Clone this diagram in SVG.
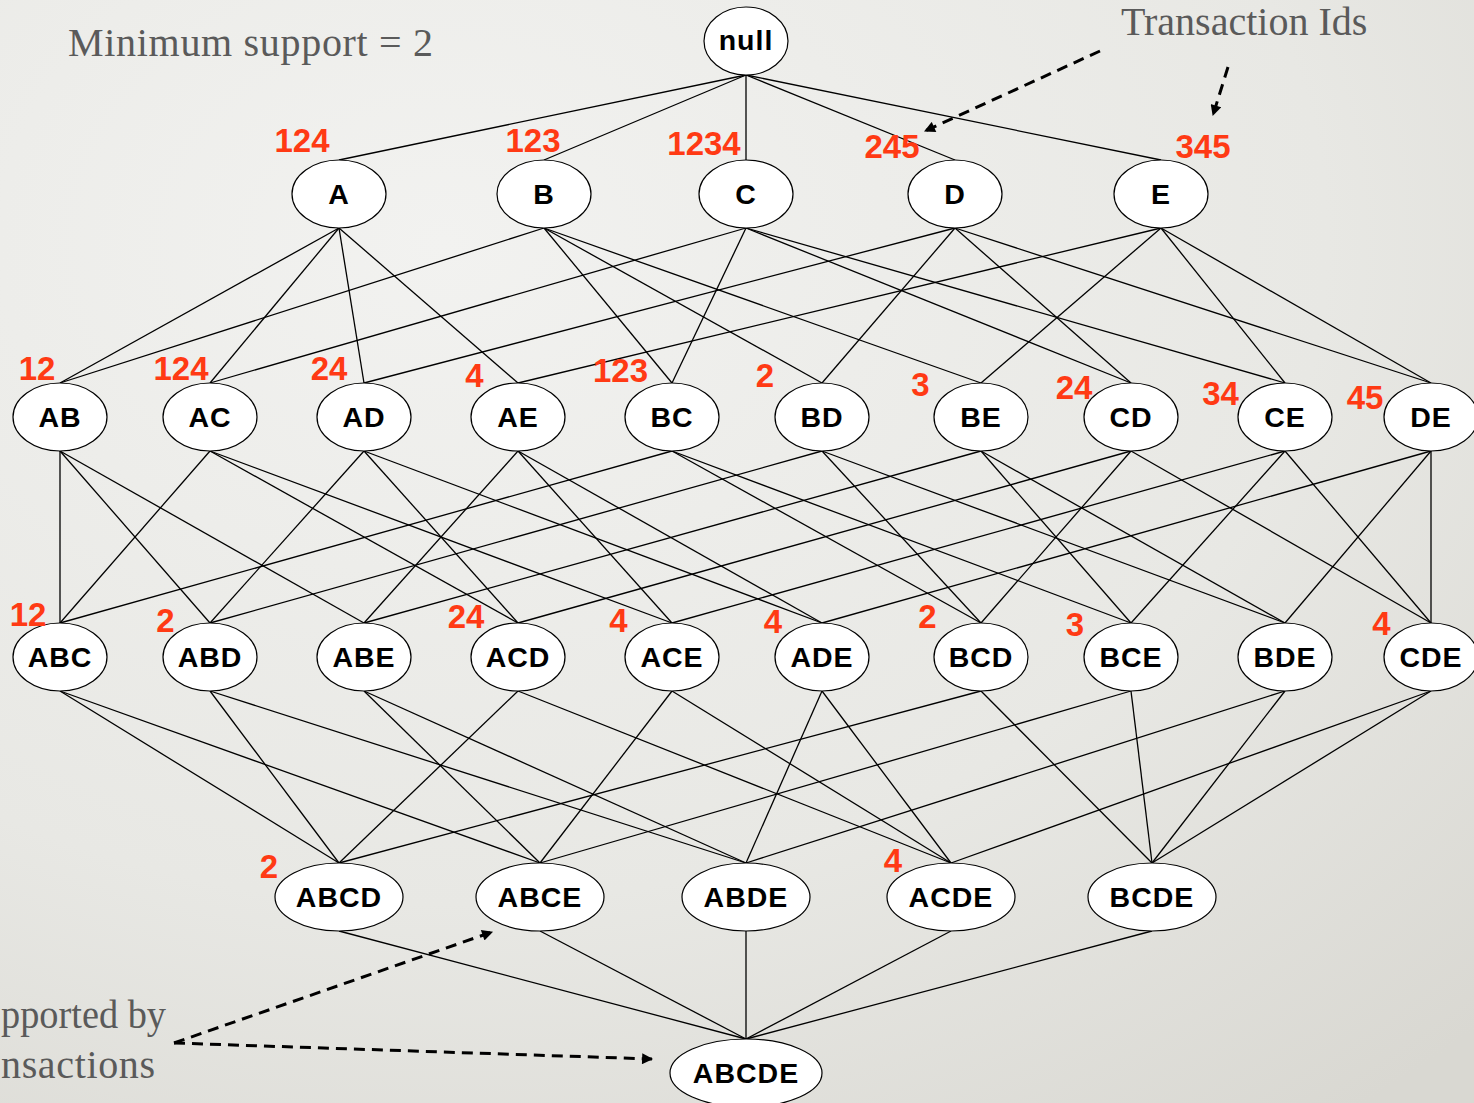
<svg xmlns="http://www.w3.org/2000/svg" width="1474" height="1103" viewBox="0 0 1474 1103">
  <defs>
    <radialGradient id="bg" cx="0.3" cy="0.22" r="1.0">
      <stop offset="0" stop-color="#f2f2f0"/>
      <stop offset="0.6" stop-color="#e8e8e4"/>
      <stop offset="1" stop-color="#d9d8d2"/>
    </radialGradient>
    <marker id="head" viewBox="0 0 10 10" refX="9" refY="5" markerWidth="13" markerHeight="11" markerUnits="userSpaceOnUse" orient="auto">
      <path d="M0,0 L10,5 L0,10 z" fill="#000"/>
    </marker>
    <style>
      .node ellipse { fill: #fff; stroke: #000; stroke-width: 1.2; }
      .node text { font-family: "Liberation Sans", Arial, sans-serif; font-weight: bold; font-size: 28.5px; letter-spacing: 1px; text-anchor: middle; fill: #000; }
      .edges line { stroke: #000; stroke-width: 1.3; }
      .cnt { font-family: "Liberation Sans", Arial, sans-serif; font-weight: bold; font-size: 33px; fill: #ff3a14; text-anchor: middle; }
      .note { font-family: "Liberation Serif", "Times New Roman", serif; font-size: 40px; fill: #5a5a5a; }
      .callout line { stroke: #000; stroke-width: 3; stroke-dasharray: 11 7; marker-end: url(#head); }
    </style>
  </defs>

  <rect x="0" y="0" width="1474" height="1103" fill="url(#bg)"/>

  <!-- lattice edges -->
  <g class="edges">
    <!-- null to single items -->
    <line x1="746" y1="75" x2="339" y2="160"/>
    <line x1="746" y1="75" x2="544" y2="160"/>
    <line x1="746" y1="75" x2="746" y2="160"/>
    <line x1="746" y1="75" x2="955" y2="160"/>
    <line x1="746" y1="75" x2="1161" y2="160"/>
    <!-- single items to pairs -->
    <line x1="339" y1="228" x2="60" y2="383"/>
    <line x1="339" y1="228" x2="210" y2="383"/>
    <line x1="339" y1="228" x2="364" y2="383"/>
    <line x1="339" y1="228" x2="518" y2="383"/>
    <line x1="544" y1="228" x2="60" y2="383"/>
    <line x1="544" y1="228" x2="672" y2="383"/>
    <line x1="544" y1="228" x2="822" y2="383"/>
    <line x1="544" y1="228" x2="981" y2="383"/>
    <line x1="746" y1="228" x2="210" y2="383"/>
    <line x1="746" y1="228" x2="672" y2="383"/>
    <line x1="746" y1="228" x2="1131" y2="383"/>
    <line x1="746" y1="228" x2="1285" y2="383"/>
    <line x1="955" y1="228" x2="364" y2="383"/>
    <line x1="955" y1="228" x2="822" y2="383"/>
    <line x1="955" y1="228" x2="1131" y2="383"/>
    <line x1="955" y1="228" x2="1431" y2="383"/>
    <line x1="1161" y1="228" x2="518" y2="383"/>
    <line x1="1161" y1="228" x2="981" y2="383"/>
    <line x1="1161" y1="228" x2="1285" y2="383"/>
    <line x1="1161" y1="228" x2="1431" y2="383"/>
    <!-- pairs to triples -->
    <line x1="60" y1="451" x2="60" y2="623"/>
    <line x1="60" y1="451" x2="210" y2="623"/>
    <line x1="60" y1="451" x2="364" y2="623"/>
    <line x1="210" y1="451" x2="60" y2="623"/>
    <line x1="210" y1="451" x2="518" y2="623"/>
    <line x1="210" y1="451" x2="672" y2="623"/>
    <line x1="364" y1="451" x2="210" y2="623"/>
    <line x1="364" y1="451" x2="518" y2="623"/>
    <line x1="364" y1="451" x2="822" y2="623"/>
    <line x1="518" y1="451" x2="364" y2="623"/>
    <line x1="518" y1="451" x2="672" y2="623"/>
    <line x1="518" y1="451" x2="822" y2="623"/>
    <line x1="672" y1="451" x2="60" y2="623"/>
    <line x1="672" y1="451" x2="981" y2="623"/>
    <line x1="672" y1="451" x2="1131" y2="623"/>
    <line x1="822" y1="451" x2="210" y2="623"/>
    <line x1="822" y1="451" x2="981" y2="623"/>
    <line x1="822" y1="451" x2="1285" y2="623"/>
    <line x1="981" y1="451" x2="364" y2="623"/>
    <line x1="981" y1="451" x2="1131" y2="623"/>
    <line x1="981" y1="451" x2="1285" y2="623"/>
    <line x1="1131" y1="451" x2="518" y2="623"/>
    <line x1="1131" y1="451" x2="981" y2="623"/>
    <line x1="1131" y1="451" x2="1431" y2="623"/>
    <line x1="1285" y1="451" x2="672" y2="623"/>
    <line x1="1285" y1="451" x2="1131" y2="623"/>
    <line x1="1285" y1="451" x2="1431" y2="623"/>
    <line x1="1431" y1="451" x2="822" y2="623"/>
    <line x1="1431" y1="451" x2="1285" y2="623"/>
    <line x1="1431" y1="451" x2="1431" y2="623"/>
    <!-- triples to quadruples -->
    <line x1="60" y1="691" x2="339" y2="863"/>
    <line x1="60" y1="691" x2="540" y2="863"/>
    <line x1="210" y1="691" x2="339" y2="863"/>
    <line x1="210" y1="691" x2="746" y2="863"/>
    <line x1="364" y1="691" x2="540" y2="863"/>
    <line x1="364" y1="691" x2="746" y2="863"/>
    <line x1="518" y1="691" x2="339" y2="863"/>
    <line x1="518" y1="691" x2="951" y2="863"/>
    <line x1="672" y1="691" x2="540" y2="863"/>
    <line x1="672" y1="691" x2="951" y2="863"/>
    <line x1="822" y1="691" x2="746" y2="863"/>
    <line x1="822" y1="691" x2="951" y2="863"/>
    <line x1="981" y1="691" x2="339" y2="863"/>
    <line x1="981" y1="691" x2="1152" y2="863"/>
    <line x1="1131" y1="691" x2="540" y2="863"/>
    <line x1="1131" y1="691" x2="1152" y2="863"/>
    <line x1="1285" y1="691" x2="746" y2="863"/>
    <line x1="1285" y1="691" x2="1152" y2="863"/>
    <line x1="1431" y1="691" x2="951" y2="863"/>
    <line x1="1431" y1="691" x2="1152" y2="863"/>
    <!-- quadruples to full set -->
    <line x1="339" y1="931" x2="746" y2="1039"/>
    <line x1="540" y1="931" x2="746" y2="1039"/>
    <line x1="746" y1="931" x2="746" y2="1039"/>
    <line x1="951" y1="931" x2="746" y2="1039"/>
    <line x1="1152" y1="931" x2="746" y2="1039"/>
  </g>

  <!-- itemset nodes -->
  <g id="n-null" class="node"><ellipse cx="746" cy="41" rx="42" ry="34"/><text x="746" y="50">null</text></g>

  <g id="n-A" class="node"><ellipse cx="339" cy="194" rx="47" ry="34"/><text x="339" y="203.5">A</text></g>
  <g id="n-B" class="node"><ellipse cx="544" cy="194" rx="47" ry="34"/><text x="544" y="203.5">B</text></g>
  <g id="n-C" class="node"><ellipse cx="746" cy="194" rx="47" ry="34"/><text x="746" y="203.5">C</text></g>
  <g id="n-D" class="node"><ellipse cx="955" cy="194" rx="47" ry="34"/><text x="955" y="203.5">D</text></g>
  <g id="n-E" class="node"><ellipse cx="1161" cy="194" rx="47" ry="34"/><text x="1161" y="203.5">E</text></g>

  <g id="n-AB" class="node"><ellipse cx="60" cy="417" rx="47" ry="34"/><text x="60" y="426.5">AB</text></g>
  <g id="n-AC" class="node"><ellipse cx="210" cy="417" rx="47" ry="34"/><text x="210" y="426.5">AC</text></g>
  <g id="n-AD" class="node"><ellipse cx="364" cy="417" rx="47" ry="34"/><text x="364" y="426.5">AD</text></g>
  <g id="n-AE" class="node"><ellipse cx="518" cy="417" rx="47" ry="34"/><text x="518" y="426.5">AE</text></g>
  <g id="n-BC" class="node"><ellipse cx="672" cy="417" rx="47" ry="34"/><text x="672" y="426.5">BC</text></g>
  <g id="n-BD" class="node"><ellipse cx="822" cy="417" rx="47" ry="34"/><text x="822" y="426.5">BD</text></g>
  <g id="n-BE" class="node"><ellipse cx="981" cy="417" rx="47" ry="34"/><text x="981" y="426.5">BE</text></g>
  <g id="n-CD" class="node"><ellipse cx="1131" cy="417" rx="47" ry="34"/><text x="1131" y="426.5">CD</text></g>
  <g id="n-CE" class="node"><ellipse cx="1285" cy="417" rx="47" ry="34"/><text x="1285" y="426.5">CE</text></g>
  <g id="n-DE" class="node"><ellipse cx="1431" cy="417" rx="47" ry="34"/><text x="1431" y="426.5">DE</text></g>

  <g id="n-ABC" class="node"><ellipse cx="60" cy="657" rx="47" ry="34"/><text x="60" y="666.5">ABC</text></g>
  <g id="n-ABD" class="node"><ellipse cx="210" cy="657" rx="47" ry="34"/><text x="210" y="666.5">ABD</text></g>
  <g id="n-ABE" class="node"><ellipse cx="364" cy="657" rx="47" ry="34"/><text x="364" y="666.5">ABE</text></g>
  <g id="n-ACD" class="node"><ellipse cx="518" cy="657" rx="47" ry="34"/><text x="518" y="666.5">ACD</text></g>
  <g id="n-ACE" class="node"><ellipse cx="672" cy="657" rx="47" ry="34"/><text x="672" y="666.5">ACE</text></g>
  <g id="n-ADE" class="node"><ellipse cx="822" cy="657" rx="47" ry="34"/><text x="822" y="666.5">ADE</text></g>
  <g id="n-BCD" class="node"><ellipse cx="981" cy="657" rx="47" ry="34"/><text x="981" y="666.5">BCD</text></g>
  <g id="n-BCE" class="node"><ellipse cx="1131" cy="657" rx="47" ry="34"/><text x="1131" y="666.5">BCE</text></g>
  <g id="n-BDE" class="node"><ellipse cx="1285" cy="657" rx="47" ry="34"/><text x="1285" y="666.5">BDE</text></g>
  <g id="n-CDE" class="node"><ellipse cx="1431" cy="657" rx="47" ry="34"/><text x="1431" y="666.5">CDE</text></g>

  <g id="n-ABCD" class="node"><ellipse cx="339" cy="897" rx="64" ry="34"/><text x="339" y="906.5">ABCD</text></g>
  <g id="n-ABCE" class="node"><ellipse cx="540" cy="897" rx="64" ry="34"/><text x="540" y="906.5">ABCE</text></g>
  <g id="n-ABDE" class="node"><ellipse cx="746" cy="897" rx="64" ry="34"/><text x="746" y="906.5">ABDE</text></g>
  <g id="n-ACDE" class="node"><ellipse cx="951" cy="897" rx="64" ry="34"/><text x="951" y="906.5">ACDE</text></g>
  <g id="n-BCDE" class="node"><ellipse cx="1152" cy="897" rx="64" ry="34"/><text x="1152" y="906.5">BCDE</text></g>

  <g id="n-ABCDE" class="node"><ellipse cx="746" cy="1073" rx="76" ry="34"/><text x="746" y="1082.5">ABCDE</text></g>

  <!-- transaction id lists -->
  <g id="tids">
    <text class="cnt" x="302" y="152">124</text>
    <text class="cnt" x="533" y="152">123</text>
    <text class="cnt" x="704" y="155">1234</text>
    <text class="cnt" x="892" y="158">245</text>
    <text class="cnt" x="1203" y="158">345</text>

    <text class="cnt" x="37" y="380">12</text>
    <text class="cnt" x="181" y="380">124</text>
    <text class="cnt" x="329" y="380">24</text>
    <text class="cnt" x="474.5" y="386.5">4</text>
    <text class="cnt" x="620.5" y="381.5">123</text>
    <text class="cnt" x="765" y="386.5">2</text>
    <text class="cnt" x="920.5" y="396">3</text>
    <text class="cnt" x="1074" y="398.5">24</text>
    <text class="cnt" x="1220.5" y="405">34</text>
    <text class="cnt" x="1365" y="409">45</text>

    <text class="cnt" x="28" y="626">12</text>
    <text class="cnt" x="165.5" y="631.5">2</text>
    <text class="cnt" x="466" y="627.5">24</text>
    <text class="cnt" x="618.5" y="631.5">4</text>
    <text class="cnt" x="773" y="632.5">4</text>
    <text class="cnt" x="927.5" y="627.5">2</text>
    <text class="cnt" x="1075" y="635.5">3</text>
    <text class="cnt" x="1381.5" y="635">4</text>

    <text class="cnt" x="269" y="878">2</text>
    <text class="cnt" x="893" y="872">4</text>
  </g>

  <!-- annotations -->
  <text class="note" x="68" y="56" textLength="365" lengthAdjust="spacing">Minimum support = 2</text>
  <text class="note" x="1121" y="35">Transaction Ids</text>
  <text class="note" x="1" y="1028" textLength="165" lengthAdjust="spacingAndGlyphs">pported by</text>
  <text class="note" x="1" y="1078" textLength="154" lengthAdjust="spacing">nsactions</text>

  <g class="callout">
    <line x1="1100" y1="51" x2="925" y2="131"/>
    <line x1="1228" y1="67" x2="1213" y2="115"/>
    <line x1="174" y1="1043" x2="492" y2="932"/>
    <line x1="174" y1="1043" x2="652" y2="1059"/>
  </g>
</svg>
